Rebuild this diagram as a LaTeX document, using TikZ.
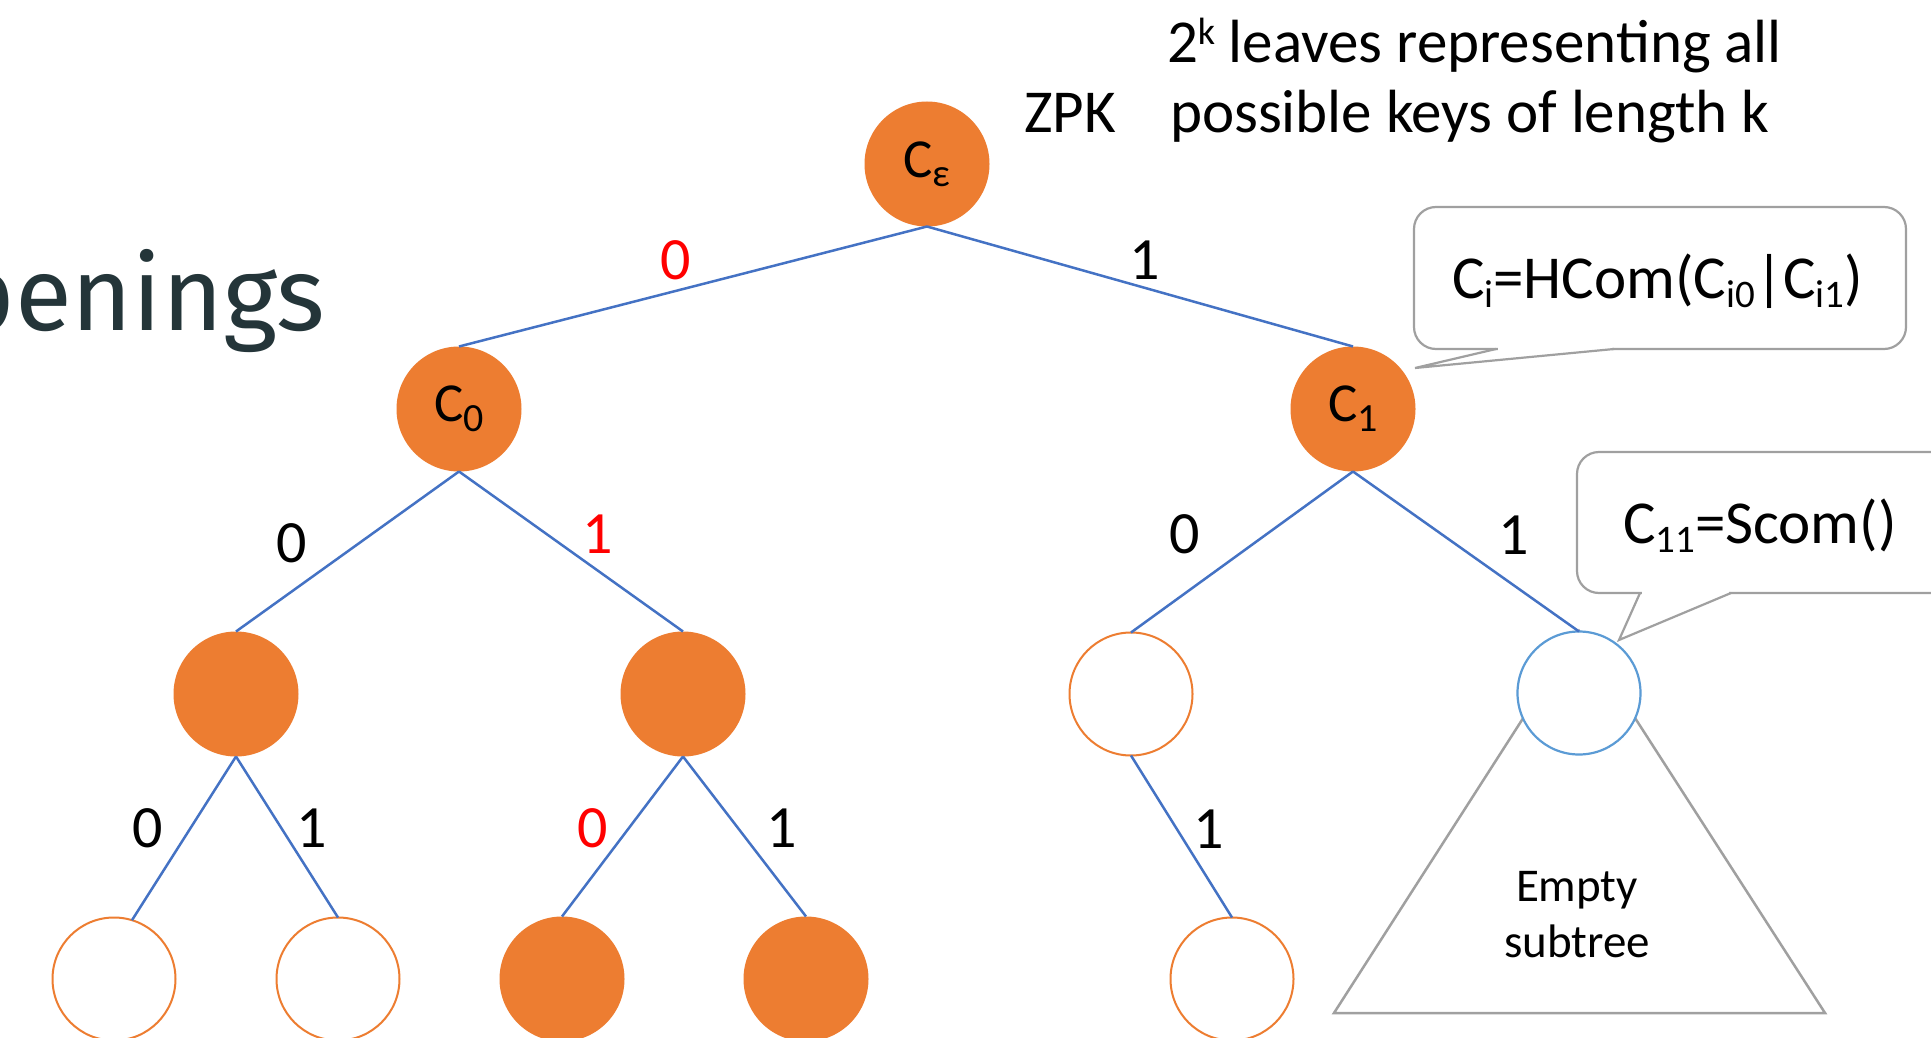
\documentclass[tikz,border=0pt]{standalone}
\usepackage{fontspec}
\setmainfont{Carlito}
\newfontfamily\titlefont{Fira Sans}
\definecolor{nodeorange}{HTML}{ED7D31}
\definecolor{edgeblue}{HTML}{4472C4}
\definecolor{ringblue}{HTML}{5B9BD5}
\definecolor{calloutgray}{HTML}{A0A0A0}
\definecolor{bitred}{HTML}{FF0000}
\definecolor{titleslate}{HTML}{243539}
% small lowered / raised text for indices
\newcommand{\subtxt}[1]{\raisebox{-10pt}{\fontsize{40}{42}\selectfont #1}}
\newcommand{\smallsub}[1]{\raisebox{-9pt}{\fontsize{39}{40}\selectfont #1}}
\newcommand{\suptxt}[1]{\raisebox{18pt}{\fontsize{38}{40}\selectfont #1}}
\begin{document}
\begin{tikzpicture}[x=1pt,y=-1pt,
  every node/.style={inner sep=0pt, outer sep=0pt},
  txt/.style={font=\fontsize{61}{72}\selectfont},
  calltxt/.style={font=\fontsize{61}{64}\selectfont},
  bit/.style={font=\fontsize{60}{72}\selectfont},
  redbit/.style={bit, text=bitred},
  full/.style={circle, fill=nodeorange, minimum size=125pt, font=\fontsize{55}{60}\selectfont},
  hollow/.style={circle, draw=nodeorange, line width=2pt, fill=white, minimum size=123pt},
  ring/.style={circle, draw=ringblue, line width=2.2pt, fill=white, minimum size=123pt},
  edge/.style={draw=edgeblue, line width=2.5pt},
  callout/.style={draw=calloutgray, line width=2.2pt},
]
\clip (0,0) rectangle (1931,1038);
\fill[white] (0,0) rectangle (1931,1038);

% heading fragment
\node[anchor=base east, font=\titlefont\fontsize{104}{110}\selectfont, text=titleslate] (title) at (325,330) {penings};

% empty subtree under C11
\draw[line width=2.5pt, draw=calloutgray] (1579,631) -- (1334,1013) -- (1825,1013) -- cycle;
\node[font=\fontsize{47}{56}\selectfont, align=center] (emptytxt) at (1577,915) {Empty\\subtree};

% tree nodes
\node[full] (root) at (927,164) {C\smallsub{ε}};
\node[full] (c0) at (459,409) {C\subtxt{0}};
\node[full] (c1) at (1353,409) {C\subtxt{1}};
\node[full] (n00) at (236,694) {};
\node[full] (n01) at (683,694) {};
\node[hollow] (n10) at (1131,694) {};
\node[ring] (n11) at (1579,693) {};
\node[hollow] (n000) at (114,979) {};
\node[hollow] (n001) at (338,979) {};
\node[full] (n010) at (562,979) {};
\node[full] (n011) at (806,979) {};
\node[hollow] (n101) at (1232,979) {};

% branches
\draw[edge] (root.south) -- (c0.north);
\draw[edge] (root.south) -- (c1.north);
\draw[edge] (c0.south) -- (n00.north);
\draw[edge] (c0.south) -- (n01.north);
\draw[edge] (c1.south) -- (n10.north);
\draw[edge] (c1.south) -- (n11.north);
\draw[edge] (n00.south) -- (n000.73);
\draw[edge] (n00.south) -- (n001.north);
\draw[edge] (n01.south) -- (n010.north);
\draw[edge] (n01.south) -- (n011.north);
\draw[edge] (n10.south) -- (n101.north);

% branch bits
\node[redbit] (b0) at (676,260) {0};
\node[bit] (b1) at (1145,260) {1};
\node[bit] (b00) at (292,543) {0};
\node[redbit] (b01) at (598,534) {1};
\node[bit] (b10) at (1185,534) {0};
\node[bit] (b11) at (1514,535) {1};
\node[bit] (b000) at (148,828) {0};
\node[bit] (b001) at (312,828) {1};
\node[redbit] (b010) at (593,828) {0};
\node[bit] (b011) at (782,828) {1};
\node[bit] (b101) at (1209,829) {1};

% caption at the top
\node[txt, anchor=base west] (keys1) at (1167,63) {2\suptxt{k} leaves representing all};
\node[txt, anchor=base west] (keys2) at (1170,133) {possible keys of length k};
\node[txt, anchor=base west] (zpk) at (1024,133) {ZPK};

% callout for the hash commitment
\draw[callout, fill=white, rounded corners=22pt] (1414,207) rectangle (1906,349);
\fill[white] (1498,345) rectangle (1612,352);
\draw[callout] (1496,349) -- (1415,368) -- (1614,349);
\node[calltxt, anchor=base west] (hcom) at (1452,298)
  {C\smallsub{i}=HCom(C\smallsub{i0}|C\smallsub{i1})};

% callout for the soft commitment
\draw[callout, fill=white, rounded corners=22pt] (1577,452) rectangle (1975,593);
\fill[white] (1642,589) rectangle (1729,596);
\draw[callout] (1640,593) -- (1619,640) -- (1731,593);
\node[calltxt, anchor=base west] (scom) at (1623,543)
  {C\smallsub{11}=Scom()};
\end{tikzpicture}
\end{document}
